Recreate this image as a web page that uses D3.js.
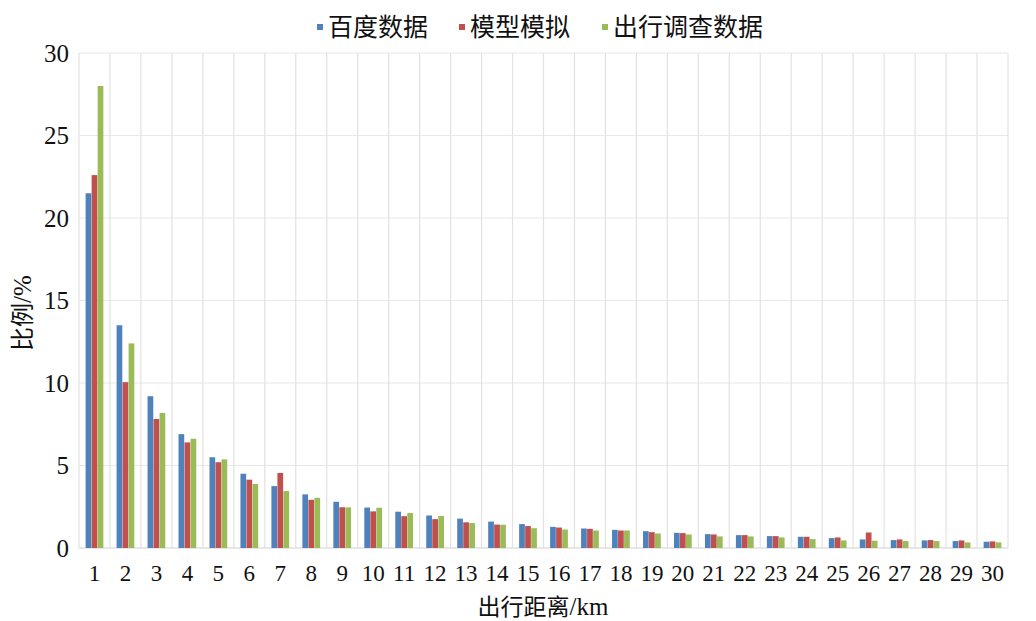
<!DOCTYPE html>
<html>
<head>
<meta charset="utf-8">
<script src="https://cdn.jsdelivr.net/npm/d3@7"></script>
<style>
  body { margin: 0; background: #fff; }
  svg { display: block; }
</style>
</head>
<body>
<div id="chart"></div>
<script>
// distances 1..30 km
var categories = d3.range(1, 31).map(String);
var seriesNames = ["百度数据", "模型模拟", "出行调查数据"];
var baidu = [21.5, 13.5, 9.2, 6.9, 5.5, 4.5, 3.75, 3.25, 2.8, 2.45, 2.2, 1.97, 1.78, 1.6, 1.45,
             1.28, 1.18, 1.1, 1.02, 0.92, 0.84, 0.78, 0.72, 0.68, 0.6, 0.52, 0.48, 0.46, 0.42, 0.38];
var model = [22.6, 10.05, 7.82, 6.4, 5.2, 4.14, 4.55, 2.92, 2.47, 2.22, 1.93, 1.75, 1.56, 1.42, 1.33,
             1.24, 1.16, 1.06, 0.96, 0.9, 0.82, 0.78, 0.72, 0.68, 0.64, 0.94, 0.52, 0.48, 0.46, 0.4];
var survey = [28.0, 12.4, 8.18, 6.62, 5.37, 3.88, 3.45, 3.04, 2.46, 2.44, 2.12, 1.94, 1.51, 1.41, 1.2,
              1.12, 1.06, 1.06, 0.88, 0.82, 0.7, 0.7, 0.64, 0.54, 0.46, 0.44, 0.42, 0.42, 0.34, 0.34];
var yTicks = [0, 5, 10, 15, 20, 25, 30];
var colors = ["#4f81bd", "#c0504d", "#9bbb59"];

var W = 1036, H = 621;
var margin = {left: 79, right: 28, top: 53, bottom: 73};
var serif = "'Liberation Serif', 'Times New Roman', 'DejaVu Serif', serif";
var cjk = "'Noto Sans CJK SC', sans-serif";

var svg = d3.select("#chart").append("svg")
    .attr("width", W)
    .attr("height", H);

var x0 = d3.scaleBand()
    .domain(categories)
    .range([margin.left, W - margin.right]);

var x1 = d3.scaleBand()
    .domain(d3.range(3))
    .range([0, x0.bandwidth()])
    .paddingInner(0.05)
    .paddingOuter(1.1);

var y = d3.scaleLinear()
    .domain([0, 30])
    .range([H - margin.bottom, margin.top]);

// horizontal grid
svg.append("g").selectAll("line")
    .data(yTicks)
    .enter()
    .append("line")
    .attr("x1", margin.left)
    .attr("x2", W - margin.right)
    .attr("y1", function(d) { return y(d); })
    .attr("y2", function(d) { return y(d); })
    .attr("stroke", function(d) { return d === 0 ? "#d0d0d0" : "#e8e8e8"; })
    .attr("stroke-width", 1.2);

// vertical grid at category edges
var edges = categories.map(function(c) { return x0(c); }).concat([x0.range()[1]]);
svg.append("g").selectAll("line")
    .data(edges)
    .enter()
    .append("line")
    .attr("x1", function(d) { return d; })
    .attr("x2", function(d) { return d; })
    .attr("y1", y(30))
    .attr("y2", y(0))
    .attr("stroke", "#e2e2e2")
    .attr("stroke-width", 1.2);

// bars
var allSeries = [baidu, model, survey];
var rows = categories.map(function(c, i) {
    return {cat: c, vals: allSeries.map(function(s) { return s[i]; })};
});

var group = svg.append("g").selectAll("g")
    .data(rows)
    .enter()
    .append("g")
    .attr("transform", function(d) { return "translate(" + x0(d.cat) + ",0)"; });

group.selectAll("rect")
    .data(function(d) { return d.vals; })
    .enter()
    .append("rect")
    .attr("x", function(d, i) { return x1(i); })
    .attr("width", x1.bandwidth())
    .attr("y", function(d) { return y(d); })
    .attr("height", function(d) { return y(0) - y(d); })
    .attr("fill", function(d, i) { return colors[i]; });

// y tick labels
svg.append("g").selectAll("text")
    .data(yTicks)
    .enter()
    .append("text")
    .attr("x", 69)
    .attr("y", function(d) { return y(d); })
    .attr("dy", "0.34em")
    .attr("text-anchor", "end")
    .style("font-family", serif)
    .style("font-size", "25px")
    .attr("fill", "#111")
    .text(function(d) { return d; });

// x tick labels
svg.append("g").selectAll("text")
    .data(categories)
    .enter()
    .append("text")
    .attr("x", function(d) { return x0(d) + x0.bandwidth() / 2; })
    .attr("y", 581)
    .attr("text-anchor", "middle")
    .style("font-family", serif)
    .style("font-size", "23px")
    .attr("fill", "#111")
    .text(function(d) { return d; });

// axis titles
var xt = svg.append("text")
    .attr("x", 543)
    .attr("y", 615)
    .attr("text-anchor", "middle")
    .attr("fill", "#111");
xt.append("tspan").style("font-family", cjk).style("font-size", "23px").text("出行距离");
xt.append("tspan").style("font-family", serif).style("font-size", "25px").text("/km");

var yt = svg.append("text")
    .attr("transform", "translate(31,313) rotate(-90)")
    .attr("text-anchor", "middle")
    .attr("fill", "#111");
yt.append("tspan").style("font-family", cjk).style("font-size", "24px").text("比例");
yt.append("tspan").style("font-family", serif).style("font-size", "25px").text("/%");

// legend
var legendX = [317, 459, 602];
var legend = svg.append("g").selectAll("g")
    .data(seriesNames)
    .enter()
    .append("g")
    .attr("transform", function(d, i) { return "translate(" + legendX[i] + ",27)"; });

legend.append("rect")
    .attr("x", 0)
    .attr("y", -3)
    .attr("width", 6)
    .attr("height", 6)
    .attr("fill", function(d, i) { return colors[i]; });

legend.append("text")
    .attr("x", 11)
    .attr("dy", "0.36em")
    .style("font-family", cjk)
    .style("font-size", "25px")
    .attr("fill", "#111")
    .text(function(d) { return d; });
</script>
</body>
</html>
